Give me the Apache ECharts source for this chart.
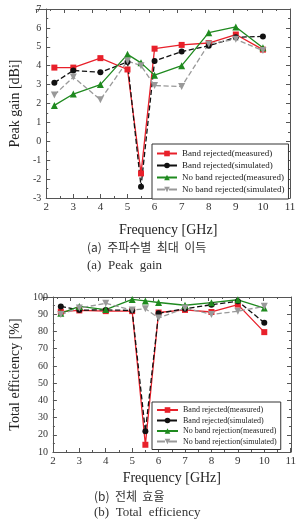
<!DOCTYPE html>
<html>
<head>
<meta charset="utf-8">
<script src="https://cdn.jsdelivr.net/npm/echarts@6/dist/echarts.min.js"></script>
<style>
html,body{margin:0;padding:0;background:#fff;}
#main{width:299px;height:525px;}
</style>
</head>
<body>
<div id="main"></div>
<script>
// frequency points (GHz)
var freq = [2.3, 3, 4, 5, 5.5, 6, 7, 8, 9, 10];

// (a) peak gain [dBi]
var gainBandMeas = [3.9, 3.9, 4.4, 3.8, -1.7, 4.9, 5.1, 5.2, 5.65, 4.85];
var gainBandSim = [3.1, 3.75, 3.65, 4.2, -2.4, 4.25, 4.75, 5.05, 5.5, 5.55];
var gainNoMeas = [1.9, 2.5, 3.0, 4.6, 4.15, 3.5, 4.0, 5.75, 6.05, 4.95];
var gainNoSim = [2.45, 3.4, 2.2, 4.25, 4.0, 2.95, 2.9, 5.15, 5.4, 4.8];

// (b) total efficiency [%]
var effBandMeas = [91.5, 92.2, 91.8, 91.8, 14.2, 91, 92.5, 91.3, 95.6, 79.6];
var effBandSim = [94.5, 92.4, 92.5, 92.2, 22, 90.5, 93.2, 95.5, 97.5, 85.1];
var effNoMeas = [90.5, 94.5, 92.7, 98.6, 97.7, 96.8, 95.2, 96.7, 98.4, 93.6];
var effNoSim = [89.8, 93.6, 96.3, 92.4, 93.2, 87.8, 93.6, 89.9, 91.7, 94.6];

var namesA = ['Band rejected(measured)', 'Band rejected(simulated)', 'No band rejected(measured)', 'No band rejected(simulated)'];
var namesB = ['Band rejected(measured) ', 'Band rejected(simulated) ', 'No band rejection(measured)', 'No band rejection(simulated)'];

var serif = '"Liberation Serif","DejaVu Serif",serif';

function pairs(vals){
	var out = [];
	for (var i = 0; i < freq.length; i++) {
		out.push([freq[i], vals[i]]);
	}
	return out;
}

var styles = [
	{color:'#e8202a', type:'solid', symbol:'rect', size:6},
	{color:'#111111', type:'dashed', symbol:'circle', size:6},
	{color:'#1f8a1f', type:'solid', symbol:'triangle', size:7},
	{color:'#999999', type:'dashed', symbol:'path://M0,0 L10,0 L5,9 Z', size:7}
];

function makeSeries(name, vals, idx, st){
	return {
		name: name,
		type: 'line',
		xAxisIndex: idx,
		yAxisIndex: idx,
		data: pairs(vals),
		symbol: st.symbol,
		symbolSize: st.size,
		showAllSymbol: true,
		itemStyle: {color: st.color},
		lineStyle: {color: st.color, width: 1.3, type: st.type},
		animation: false
	};
}

function xAx(idx, show, gap){
	return {
		type: 'value', gridIndex: idx, min: 2, max: 11, interval: 1,
		position: show ? 'bottom' : 'top',
		axisLine: {show: true, onZero: false, lineStyle: {color: '#555', width: 1}},
		axisTick: {show: true, inside: true, length: 4, lineStyle: {color: '#555'}},
		minorTick: {show: true, splitNumber: 2, length: 2, lineStyle: {color: '#555'}},
		axisLabel: {show: show, color: '#333', fontFamily: serif, fontSize: 11, margin: 4},
		splitLine: {show: false},
		name: show ? 'Frequency [GHz]' : '',
		nameLocation: 'middle',
		nameGap: gap,
		nameTextStyle: {color: '#222', fontFamily: serif, fontSize: 14}
	};
}

function yAx(idx, show, min, max, interval, name, gap){
	return {
		type: 'value', gridIndex: idx, min: min, max: max, interval: interval,
		position: show ? 'left' : 'right',
		axisLine: {show: true, onZero: false, lineStyle: {color: '#555', width: 1}},
		axisTick: {show: true, inside: true, length: 4, lineStyle: {color: '#555'}},
		minorTick: {show: true, splitNumber: 2, length: 2, lineStyle: {color: '#555'}},
		axisLabel: {show: show, color: '#333', fontFamily: serif, fontSize: 10, margin: 5},
		splitLine: {show: false},
		name: show ? name : '',
		nameLocation: 'middle',
		nameGap: gap,
		nameTextStyle: {color: '#222', fontFamily: serif, fontSize: 14}
	};
}

var series = [];
var gainData = [gainBandMeas, gainBandSim, gainNoMeas, gainNoSim];
var effData = [effBandMeas, effBandSim, effNoMeas, effNoSim];
for (var i = 0; i < 4; i++) {
	series.push(makeSeries(namesA[i], gainData[i], 0, styles[i]));
}
for (var j = 0; j < 4; j++) {
	series.push(makeSeries(namesB[j], effData[j], 2, styles[j]));
}

var myChart = echarts.init(document.getElementById('main'));
var option = {
	backgroundColor: '#fff',
	animation: false,
	grid: [
		{left: 36, top: 9, width: 254, height: 189},
		{left: 36, top: 9, width: 254, height: 189},
		{left: 43, top: 297, width: 248, height: 155},
		{left: 43, top: 297, width: 248, height: 155}
	],
	xAxis: [xAx(0, true, 25), xAx(1, false, 0), xAx(2, true, 19), xAx(3, false, 0)],
	yAxis: [
		yAx(0, true, -3, 7, 1, 'Peak gain [dBi]', 24),
		yAx(1, false, -3, 7, 1, '', 0),
		yAx(2, true, 10, 100, 10, 'Total efficiency [%]', 30),
		yAx(3, false, 10, 100, 10, '', 0)
	],
	legend: [
		{
			data: namesA, orient: 'vertical', left: 152, top: 144,
			itemWidth: 20, itemHeight: 7, itemGap: 3,
			padding: [5, 4, 5, 4],
			borderColor: '#333', borderWidth: 1, borderRadius: 0,
			backgroundColor: '#fff',
			textStyle: {fontFamily: serif, fontSize: 9, color: '#222'}
		},
		{
			data: namesB, orient: 'vertical', left: 152, top: 402,
			itemWidth: 21, itemHeight: 7, itemGap: 2.5,
			padding: [4, 4, 4, 4],
			borderColor: '#333', borderWidth: 1, borderRadius: 0,
			backgroundColor: '#fff',
			textStyle: {fontFamily: serif, fontSize: 8, color: '#222'}
		}
	],
	graphic: [
		{type: 'text', left: 87, top: 241, style: {text: '(a)  주파수별  최대  이득', font: '12px "Noto Sans CJK KR", sans-serif', fill: '#333'}},
		{type: 'text', left: 87, top: 259, style: {text: '(a)  Peak  gain', font: '13px ' + serif, fill: '#333'}},
		{type: 'text', left: 94, top: 490, style: {text: '(b)  전체  효율', font: '12px "Noto Sans CJK KR", sans-serif', fill: '#333'}},
		{type: 'text', left: 94, top: 506, style: {text: '(b)  Total  efficiency', font: '13px ' + serif, fill: '#333'}}
	],
	series: series
};
myChart.setOption(option);
</script>
</body>
</html>
